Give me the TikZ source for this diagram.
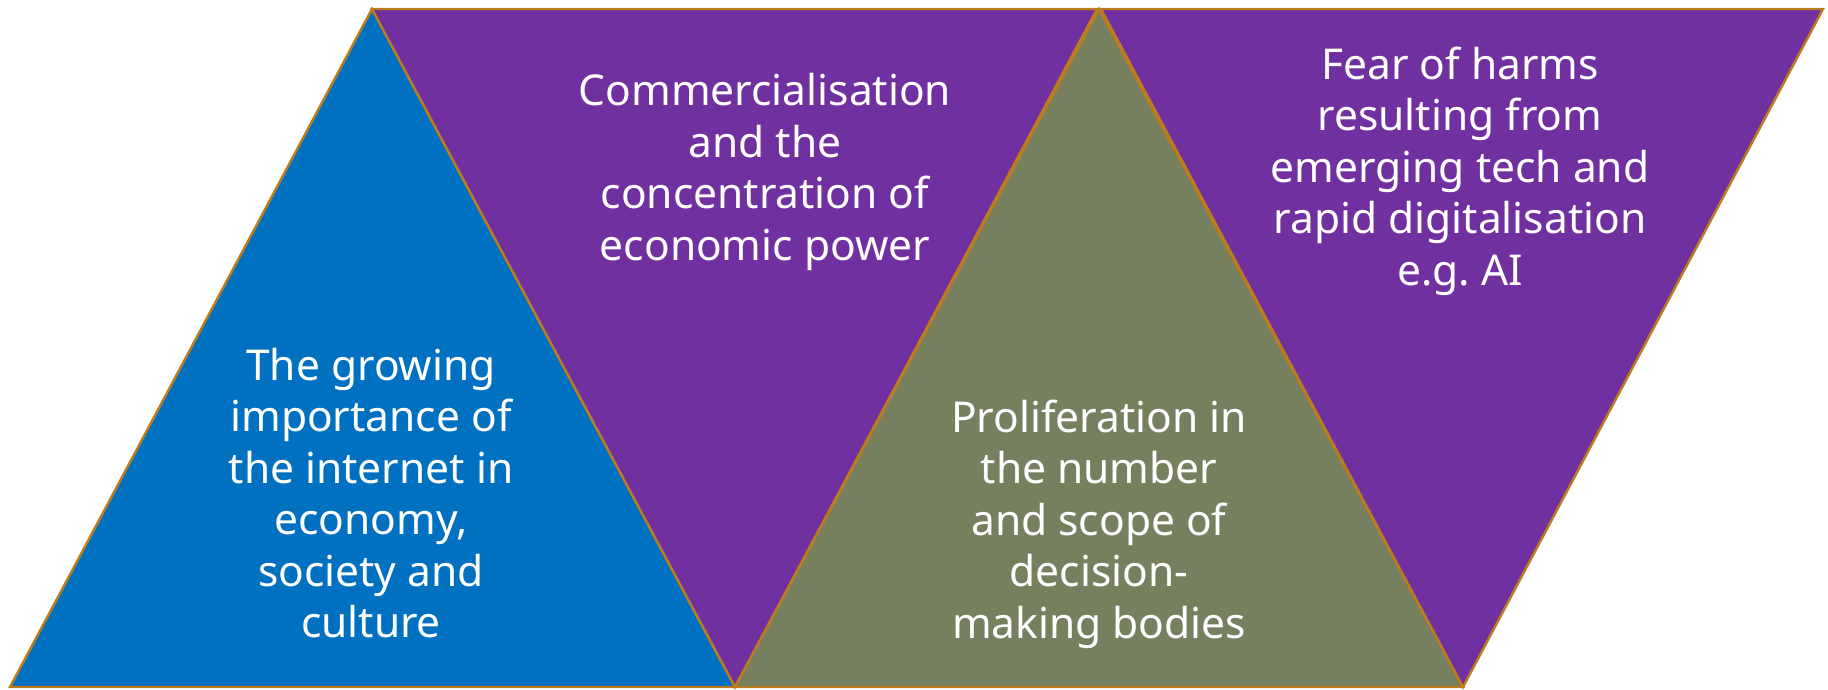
\documentclass[tikz,border=0pt]{standalone}
\usepackage{fontspec}
\setmainfont{Noto Sans}
\definecolor{tblue}{RGB}{0,112,192}
\definecolor{tpurple}{RGB}{112,48,160}
\definecolor{tgreen}{RGB}{118,128,94}
\definecolor{tedge}{RGB}{188,124,30}
\begin{document}
\begin{tikzpicture}[x=1pt,y=-1pt,
  tri/.style={draw=tedge,line width=2.4pt,line join=miter},
  lbl/.style={text=white,align=center,font=\fontsize{42.5}{51.5}\selectfont,inner sep=0pt}]
\useasboundingbox (0,0) rectangle (1828,689);
\coordinate (b1) at (10,687);
\coordinate (a1) at (372,9);
\coordinate (b2) at (735,687);
\coordinate (t2) at (1097,9);
\coordinate (a2) at (1099,9);
\coordinate (b3) at (1463,687);
\coordinate (t3) at (1101,9);
\coordinate (t4) at (1823,9);
\fill[tblue] (b1) -- (a1) -- (b2) -- cycle;
\draw[tri] (b1) -- (a1) -- (b2) -- cycle;
\fill[tpurple] (a1) -- (t2) -- (b2) -- cycle;
\draw[tri] (a1) -- (t2) -- (b2) -- cycle;
\fill[tgreen] (b2) -- (a2) -- (b3) -- cycle;
\draw[tri] (b2) -- (a2) -- (b3) -- cycle;
\fill[tpurple] (t3) -- (t4) -- (b3) -- cycle;
\draw[tri] (t3) -- (t4) -- (b3) -- cycle;
\node[lbl] (n1) at (371,493) {The growing\\importance of\\the internet in\\economy,\\society and\\culture};
\node[lbl] (n2) at (765,172) {Commercialisation\\and the\\concentration of\\economic power};
\node[lbl] (n3) at (1099,524) {Proliferation in\\the number\\and scope of\\decision-\\making bodies};
\node[lbl] (n4) at (1460,171) {Fear of harms\\resulting from\\emerging tech and\\rapid digitalisation\\e.g.\ AI};
\end{tikzpicture}
\end{document}
